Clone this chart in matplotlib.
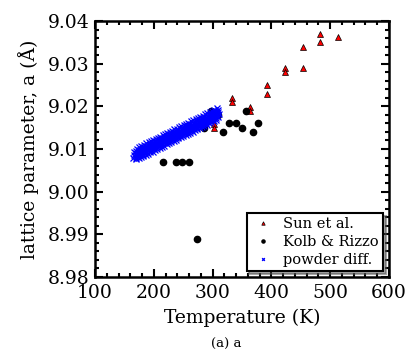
import matplotlib
matplotlib.use('Agg')
import matplotlib.pyplot as plt
from matplotlib.ticker import AutoMinorLocator

plt.rcParams['font.family'] = 'DejaVu Serif'

# Sun et al. (red triangles)
sun_T = [303, 303, 333, 333, 363, 363, 393, 393, 423, 423, 453, 453, 483, 483, 513]
sun_a = [9.0159, 9.0149, 9.0220, 9.0209, 9.0199, 9.0190, 9.0250, 9.0230,
         9.0290, 9.0280, 9.0340, 9.0290, 9.0370, 9.0351, 9.0362]

# Kolb & Rizzo (black circles)
kolb_T = [229, 285, 297, 297, 309, 318, 328, 339, 350, 357, 368, 378,
          215, 237, 248, 260, 273]
kolb_a = [9.0130, 9.0150, 9.0190, 9.0170, 9.0180, 9.0139, 9.0160, 9.0160,
          9.0150, 9.0190, 9.0139, 9.0160, 9.0070, 9.0070, 9.0070, 9.0070, 8.9888]

# powder diffraction, several runs (blue crosses)
run1_T = list(range(165, 310, 4))
run1_a = [9.0078, 9.0080, 9.0082, 9.0086, 9.0087, 9.0091, 9.0093, 9.0096, 9.0099,
          9.0101, 9.0104, 9.0107, 9.0109, 9.0113, 9.0115, 9.0117, 9.0121, 9.0123,
          9.0126, 9.0128, 9.0131, 9.0134, 9.0137, 9.0139, 9.0142, 9.0145, 9.0147,
          9.0150, 9.0153, 9.0156, 9.0158, 9.0161, 9.0164, 9.0167, 9.0169, 9.0172,
          9.0175]
run2_T = list(range(167, 312, 4))
run2_a = [9.0087, 9.0089, 9.0093, 9.0094, 9.0098, 9.0100, 9.0102, 9.0106, 9.0108,
          9.0111, 9.0113, 9.0117, 9.0119, 9.0121, 9.0125, 9.0127, 9.0130, 9.0132,
          9.0136, 9.0138, 9.0140, 9.0144, 9.0146, 9.0149, 9.0151, 9.0154, 9.0157,
          9.0159, 9.0162, 9.0165, 9.0167, 9.0170, 9.0173, 9.0175, 9.0178, 9.0181,
          9.0183]
run3_T = list(range(166, 311, 4))
run3_a = [9.0092, 9.0096, 9.0098, 9.0101, 9.0104, 9.0106, 9.0110, 9.0112, 9.0114,
          9.0118, 9.0120, 9.0123, 9.0126, 9.0128, 9.0131, 9.0134, 9.0137, 9.0139,
          9.0142, 9.0145, 9.0147, 9.0150, 9.0153, 9.0155, 9.0158, 9.0161, 9.0164,
          9.0166, 9.0169, 9.0172, 9.0174, 9.0177, 9.0180, 9.0183, 9.0185, 9.0188,
          9.0191]
run4_T = list(range(169, 310, 4))
run4_a = [9.0091, 9.0094, 9.0097, 9.0100, 9.0102, 9.0105, 9.0108, 9.0111, 9.0113,
          9.0116, 9.0119, 9.0121, 9.0124, 9.0127, 9.0130, 9.0132, 9.0135, 9.0138,
          9.0141, 9.0143, 9.0146, 9.0149, 9.0151, 9.0154, 9.0157, 9.0160, 9.0162,
          9.0165, 9.0168, 9.0171, 9.0173, 9.0176, 9.0179, 9.0181, 9.0184, 9.0187]
run5_T = list(range(168, 309, 4))
run5_a = [9.0083, 9.0086, 9.0088, 9.0091, 9.0094, 9.0097, 9.0099, 9.0102, 9.0105,
          9.0108, 9.0110, 9.0113, 9.0116, 9.0118, 9.0121, 9.0124, 9.0127, 9.0129,
          9.0132, 9.0135, 9.0138, 9.0140, 9.0143, 9.0146, 9.0148, 9.0151, 9.0154,
          9.0157, 9.0159, 9.0162, 9.0165, 9.0168, 9.0170, 9.0173, 9.0176, 9.0178]
run6_T = list(range(170, 307, 4))
run6_a = [9.0076, 9.0078, 9.0081, 9.0084, 9.0086, 9.0089, 9.0092, 9.0094, 9.0097,
          9.0100, 9.0103, 9.0105, 9.0108, 9.0111, 9.0114, 9.0116, 9.0119, 9.0122,
          9.0125, 9.0127, 9.0130, 9.0133, 9.0135, 9.0138, 9.0141, 9.0144, 9.0146,
          9.0149, 9.0152, 9.0155, 9.0157, 9.0160, 9.0163, 9.0165, 9.0168]
run7_T = list(range(171, 308, 4))
run7_a = [9.0100, 9.0105, 9.0107, 9.0110, 9.0113, 9.0116, 9.0118, 9.0121, 9.0124,
          9.0126, 9.0129, 9.0132, 9.0135, 9.0137, 9.0140, 9.0143, 9.0146, 9.0148,
          9.0151, 9.0154, 9.0156, 9.0159, 9.0162, 9.0165, 9.0167, 9.0170, 9.0173,
          9.0176, 9.0178, 9.0181, 9.0184, 9.0186, 9.0189, 9.0192, 9.0195]

powder_T = run1_T + run2_T + run3_T + run4_T + run5_T + run6_T + run7_T
powder_a = run1_a + run2_a + run3_a + run4_a + run5_a + run6_a + run7_a

fig = plt.figure(figsize=(4.10, 3.61), dpi=100)
ax = fig.add_axes([0.2317, 0.2327, 0.7171, 0.7091])

ax.plot(sun_T, sun_a, '^', color='red', mec='black', mew=0.5, ms=5, label='Sun et al.')
ax.plot(kolb_T, kolb_a, 'o', color='black', ms=4.5, label='Kolb & Rizzo')
ax.plot(powder_T, powder_a, 'x', color='blue', ms=4, mew=0.9, label='powder diff.')

ax.set_xlim(100, 600)
ax.set_ylim(8.98, 9.04)
ax.set_xticks([100, 200, 300, 400, 500, 600])
ax.set_yticks([8.98, 8.99, 9.00, 9.01, 9.02, 9.03, 9.04])
ax.yaxis.set_major_formatter(plt.FormatStrFormatter('%.2f'))
ax.xaxis.set_minor_locator(AutoMinorLocator(5))
ax.yaxis.set_minor_locator(AutoMinorLocator(5))
ax.tick_params(which='both', direction='in', top=True, right=True, width=1.5, labelsize=13.5)
ax.tick_params(which='major', length=6)
ax.tick_params(axis='x', which='major', pad=5)
ax.tick_params(axis='y', which='major', pad=4)
ax.tick_params(which='minor', length=3)
for s in ax.spines.values():
    s.set_linewidth(1.8)

ax.set_xlabel('Temperature (K)', fontsize=13.5, labelpad=5)
ax.set_ylabel('lattice parameter, a (\u00c5)', fontsize=13.5, labelpad=6)

leg = ax.legend(loc='lower right', fontsize=10.5, markerscale=0.5, shadow=True,
                fancybox=False, numpoints=1, handlelength=1.6, handletextpad=0.6,
                borderpad=0.3, labelspacing=0.25, borderaxespad=0.4, framealpha=1)
leg.get_frame().set_edgecolor('black')
leg.get_frame().set_linewidth(1.5)

fig.text(0.551, 0.035, '(a) a', fontsize=9.5, ha='center')

plt.savefig('out.png', dpi=100)
